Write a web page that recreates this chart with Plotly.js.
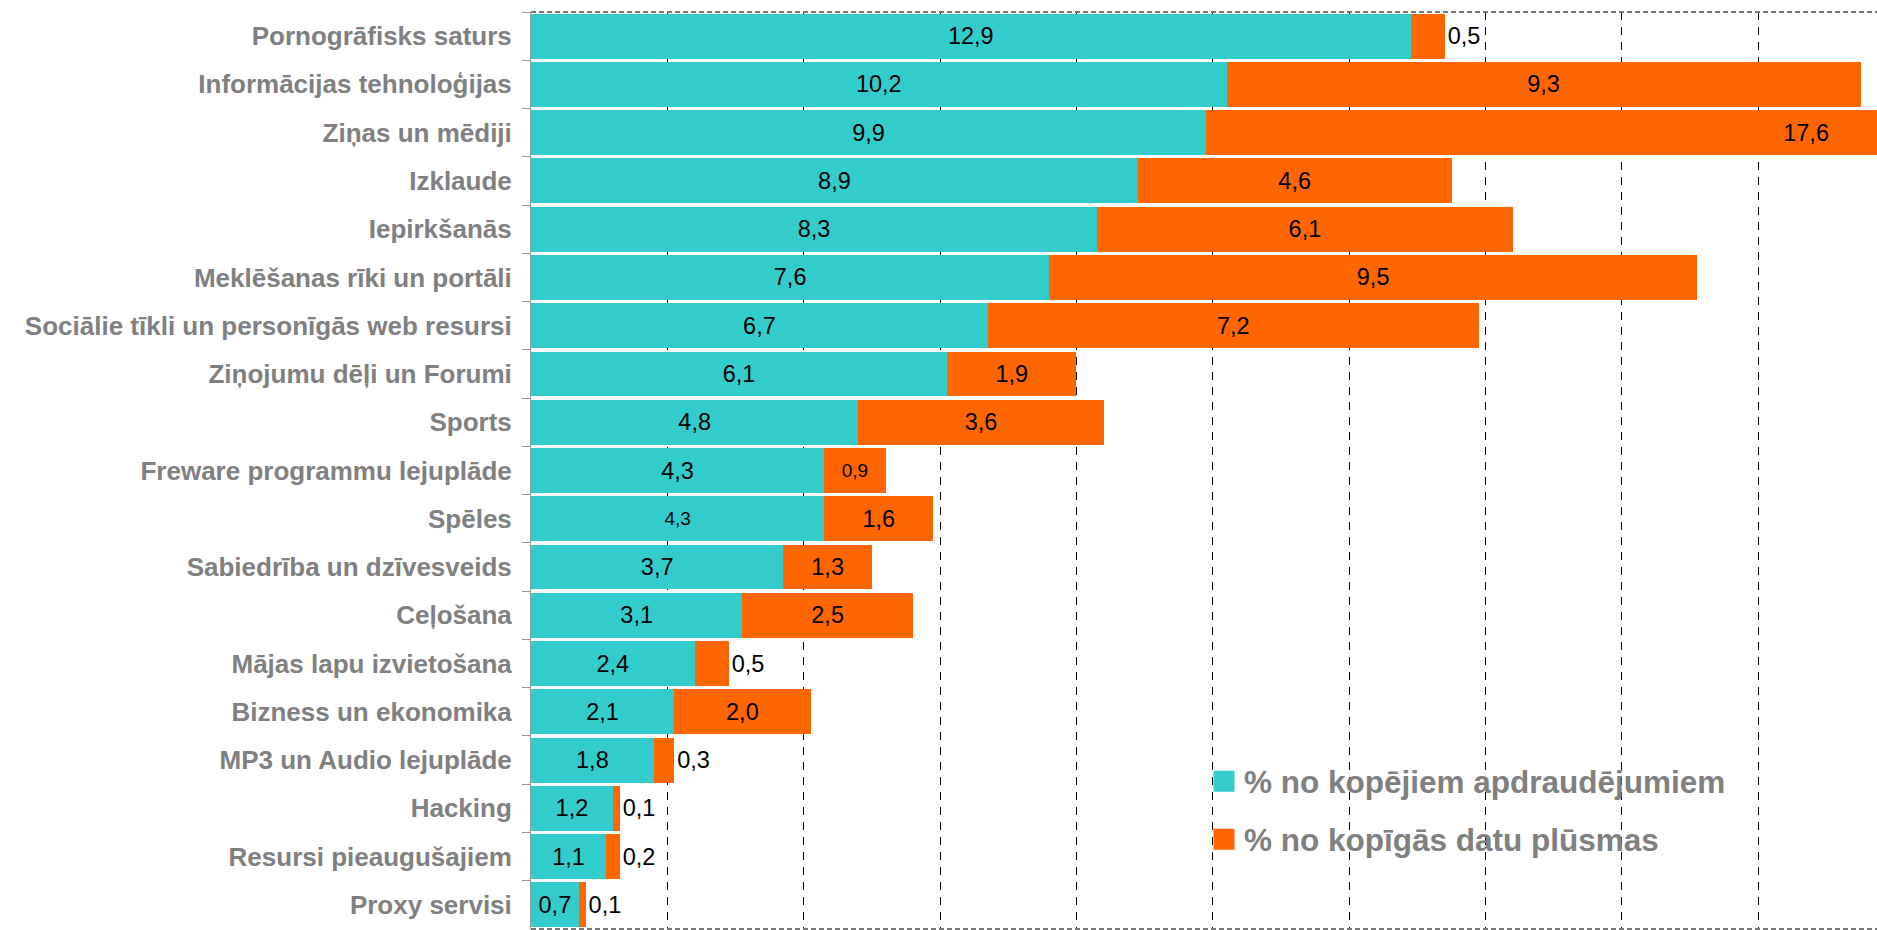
<!DOCTYPE html>
<html>
<head>
<meta charset="utf-8">
<script src="https://cdn.plot.ly/plotly-3.0.1.min.js"></script>
<style>
  html, body { margin: 0; padding: 0; background: #ffffff; }
  #chart { width: 1877px; height: 930px; }
</style>
</head>
<body>
<div id="chart"></div>
<script>
// ---- Data ----
const categories = [
  "Pornogrāfisks saturs",
  "Informācijas tehnoloģijas",
  "Ziņas un mēdiji",
  "Izklaude",
  "Iepirkšanās",
  "Meklēšanas rīki un portāli",
  "Sociālie tīkli un personīgās web resursi",
  "Ziņojumu dēļi un Forumi",
  "Sports",
  "Freware programmu lejuplāde",
  "Spēles",
  "Sabiedrība un dzīvesveids",
  "Ceļošana",
  "Mājas lapu izvietošana",
  "Bizness un ekonomika",
  "MP3 un Audio lejuplāde",
  "Hacking",
  "Resursi pieaugušajiem",
  "Proxy servisi"
];
const threatShare  = [12.9, 10.2, 9.9, 8.9, 8.3, 7.6, 6.7, 6.1, 4.8, 4.3, 4.3, 3.7, 3.1, 2.4, 2.1, 1.8, 1.2, 1.1, 0.7];
const trafficShare = [0.5, 9.3, 17.6, 4.6, 6.1, 9.5, 7.2, 1.9, 3.6, 0.9, 1.6, 1.3, 2.5, 0.5, 2.0, 0.3, 0.1, 0.2, 0.1];
const seriesNames  = ["% no kopējiem apdraudējumiem", "% no kopīgās datu plūsmas"];

// ---- Styles ----
const TEAL = "#33CCCC";
const ORANGE = "#FF6600";
const GREY_TEXT = "#808080";
const FONT = "Liberation Sans, Arial, sans-serif";

const fmt = v => v.toFixed(1).replace(".", ",");

// label size tweaks (smaller labels in the original)
const threatLabelSize  = threatShare.map((v, i) => (categories[i] === "Spēles" ? 19 : 23.5));
const trafficLabelSize = trafficShare.map((v, i) => (categories[i] === "Freware programmu lejuplāde" ? 19 : 23.5));
const trafficLabelPos  = trafficShare.map(v => (v <= 0.5 ? "outside" : "inside"));

const traces = [
  {
    type: "bar",
    orientation: "h",
    y: categories,
    x: threatShare,
    name: seriesNames[0],
    marker: { color: TEAL, line: { width: 0 } },
    text: threatShare.map(fmt),
    textposition: "inside",
    insidetextanchor: "middle",
    textangle: 0,
    constraintext: "none",
    textfont: { family: FONT, size: threatLabelSize, color: "#000000" },
    insidetextfont: { family: FONT, size: threatLabelSize, color: "#000000" },
    hoverinfo: "skip",
    showlegend: false
  },
  {
    type: "bar",
    orientation: "h",
    y: categories,
    x: trafficShare,
    name: seriesNames[1],
    marker: { color: ORANGE, line: { width: 0 } },
    text: trafficShare.map(fmt),
    textposition: trafficLabelPos,
    insidetextanchor: "middle",
    textangle: 0,
    constraintext: "none",
    textfont: { family: FONT, size: trafficLabelSize, color: "#000000" },
    insidetextfont: { family: FONT, size: trafficLabelSize, color: "#000000" },
    outsidetextfont: { family: FONT, size: trafficLabelSize, color: "#000000" },
    hoverinfo: "skip",
    showlegend: false
  },
  // legend entries (larger square swatches than the bar legend icon)
  {
    type: "scatter", mode: "markers", x: [null], y: [null],
    name: seriesNames[0], legendgroup: "g1", showlegend: true,
    marker: { symbol: "square", size: 16, color: TEAL, line: { color: TEAL, width: 5 } },
    hoverinfo: "skip"
  },
  {
    type: "scatter", mode: "markers", x: [null], y: [null],
    name: seriesNames[1], legendgroup: "g2", showlegend: true,
    marker: { symbol: "square", size: 16, color: ORANGE, line: { color: ORANGE, width: 5 } },
    hoverinfo: "skip"
  }
];

const layout = {
  width: 1877,
  height: 930,
  autosize: false,
  paper_bgcolor: "#ffffff",
  plot_bgcolor: "#ffffff",
  margin: { l: 531, r: 0, t: 12, b: 1, pad: 0 },
  barmode: "stack",
  bargap: 0.07,
  font: { family: FONT, color: GREY_TEXT },
  xaxis: {
    range: [0, 19.74],
    tick0: 0,
    dtick: 2,
    showgrid: true,
    gridcolor: "#000000",
    gridwidth: 1,
    griddash: "8px,7px",
    zeroline: false,
    showline: false,
    ticks: "",
    showticklabels: false,
    fixedrange: true
  },
  yaxis: {
    type: "category",
    autorange: "reversed",
    tickson: "boundaries",
    ticks: "outside",
    ticklen: 8,
    tickwidth: 1,
    tickcolor: "#999999",
    showline: true,
    linecolor: "#999999",
    linewidth: 1,
    showgrid: false,
    zeroline: false,
    ticklabelstandoff: 13,
    tickfont: { family: FONT, size: 26, color: GREY_TEXT, weight: "bold" },
    fixedrange: true
  },
  legend: {
    x: 0.5,
    xanchor: "left",
    y: 0.1906,
    yanchor: "top",
    bgcolor: "rgba(0,0,0,0)",
    borderwidth: 0,
    traceorder: "grouped",
    tracegroupgap: 14,
    itemsizing: "trace",
    font: { family: FONT, size: 31.5, color: GREY_TEXT, weight: "bold" }
  },
  shapes: [
    { type: "line", xref: "paper", yref: "paper", x0: 0, x1: 1, y0: 1, y1: 1,
      line: { color: "#777777", width: 2, dash: "5px,3px" }, layer: "above" },
    { type: "line", xref: "paper", yref: "paper", x0: 0, x1: 1, y0: 0, y1: 0,
      line: { color: "#777777", width: 2, dash: "5px,3px" }, layer: "above" }
  ],
  showlegend: true,
  hovermode: false
};

Plotly.newPlot("chart", traces, layout, { displayModeBar: false, staticPlot: true });
</script>
</body>
</html>
